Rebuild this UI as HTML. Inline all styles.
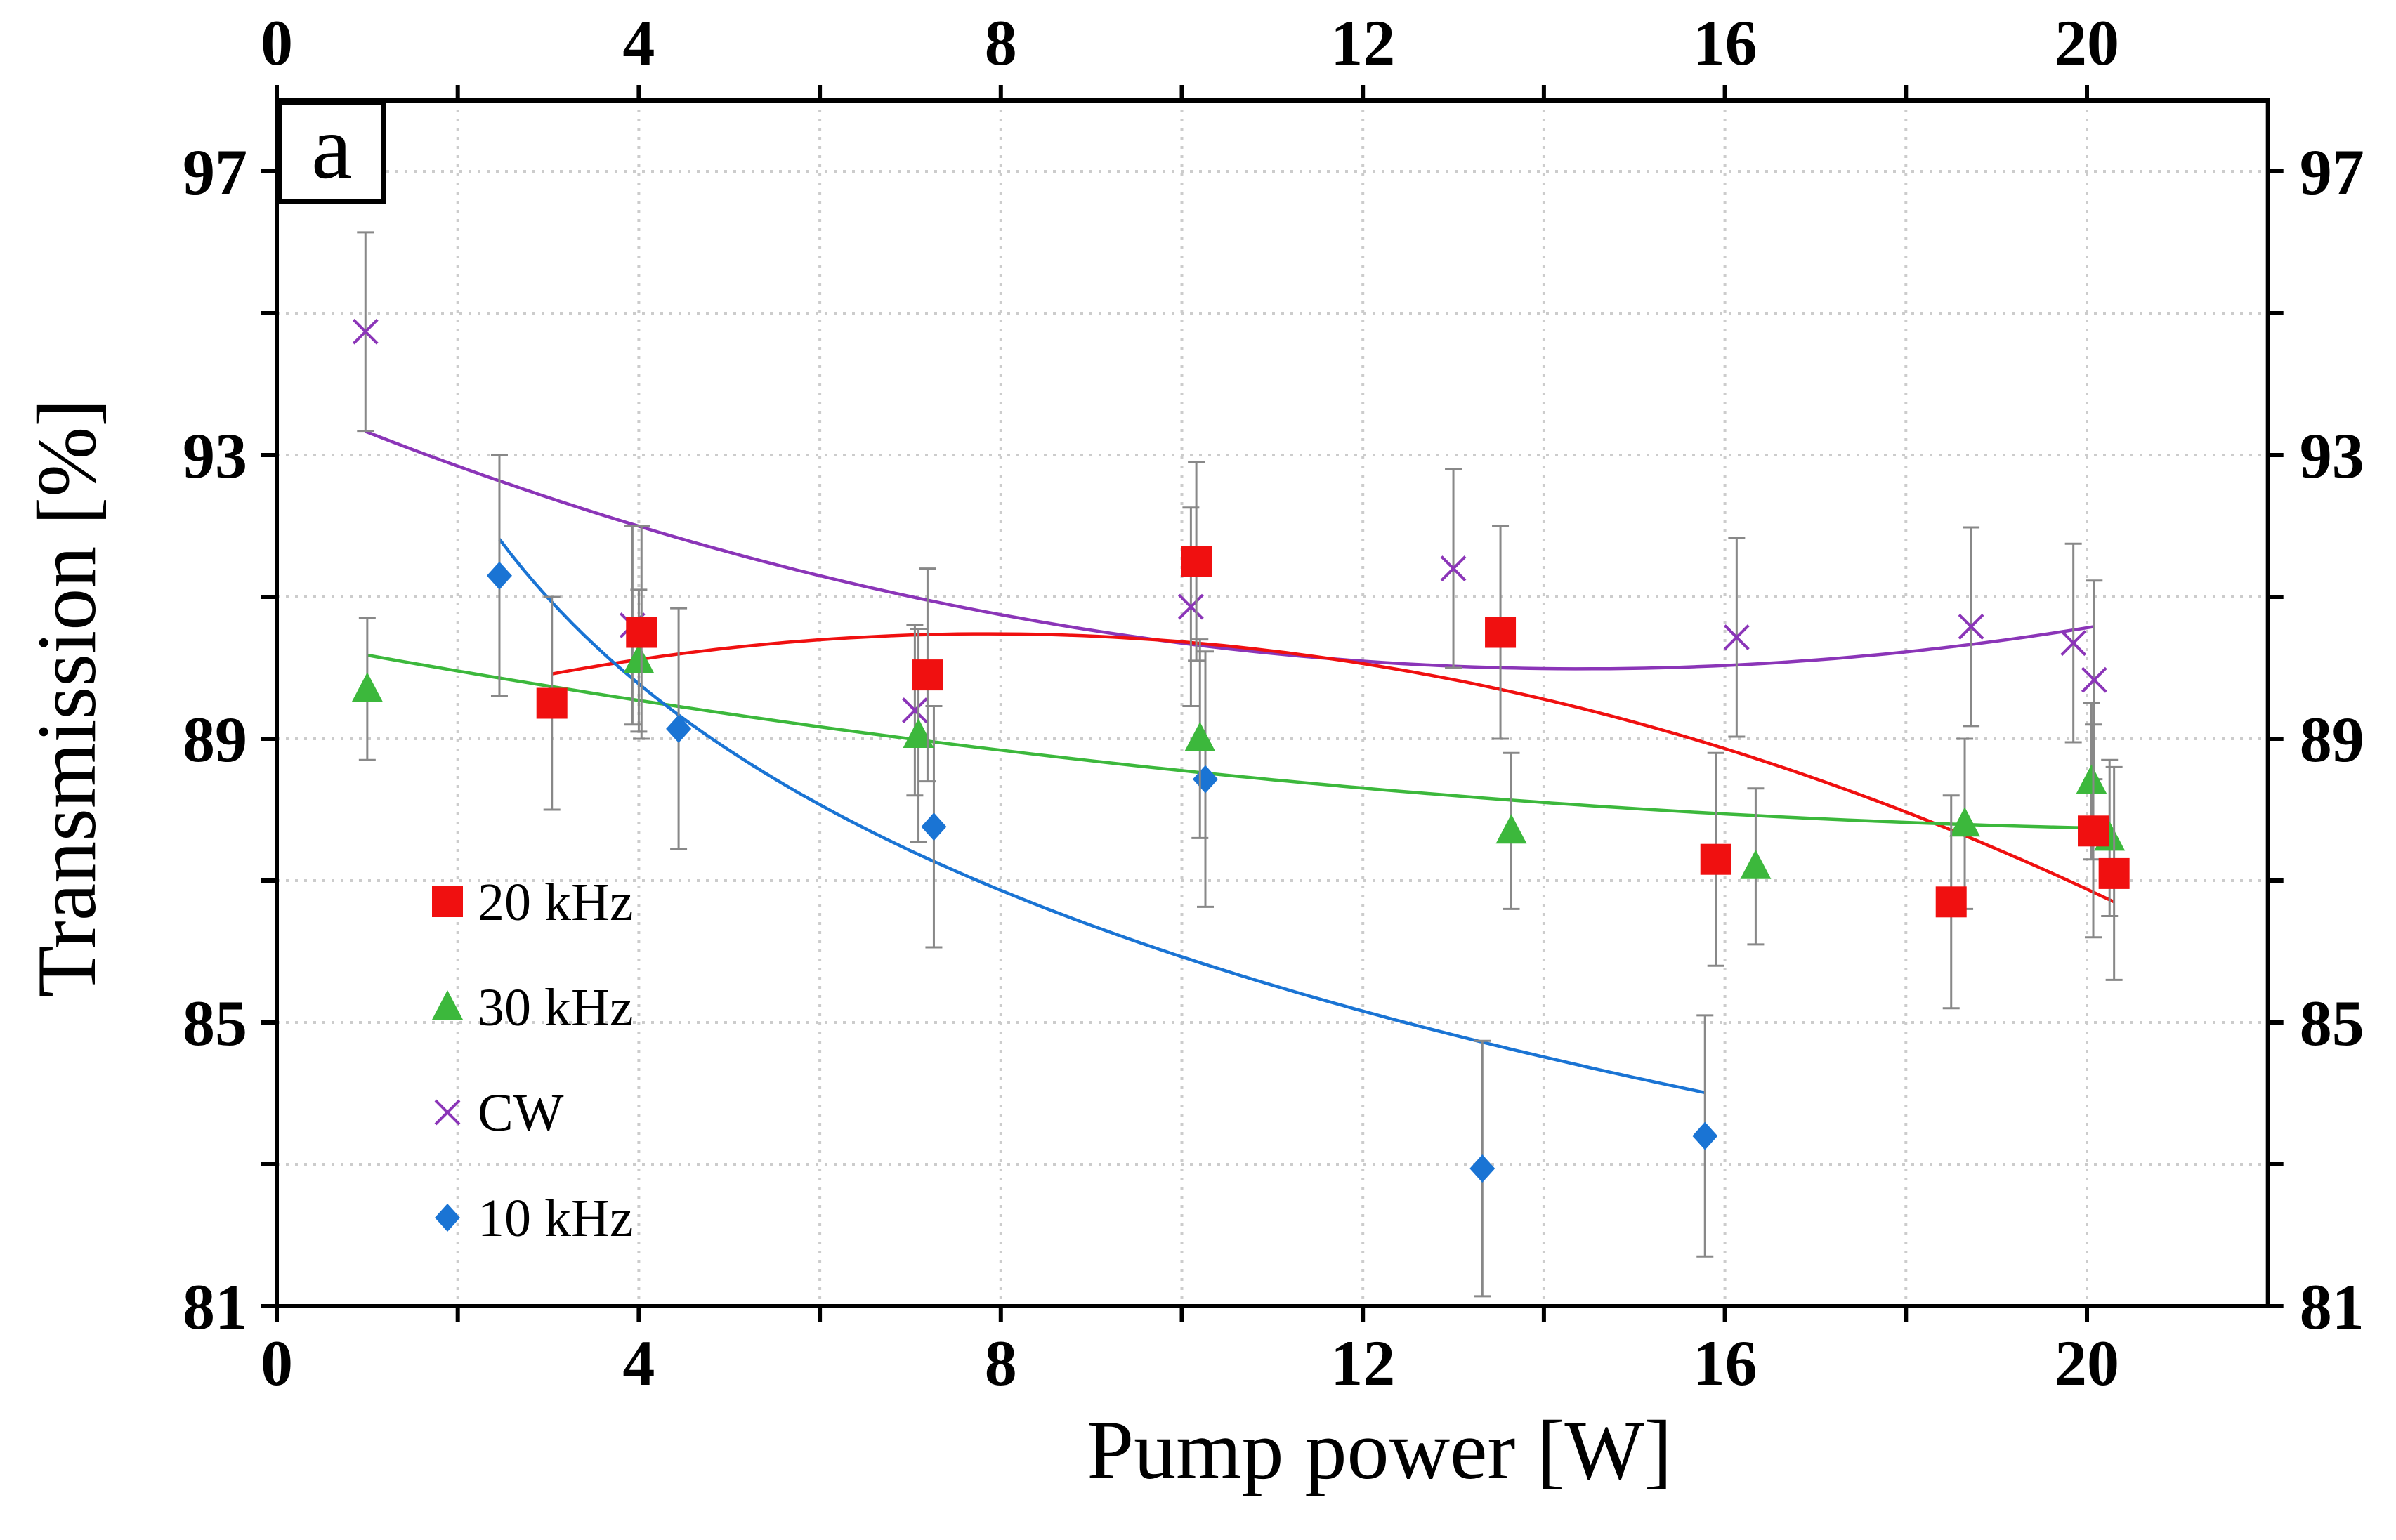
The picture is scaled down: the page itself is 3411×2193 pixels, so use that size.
<!DOCTYPE html>
<html><head><meta charset="utf-8"><style>
html,body{margin:0;padding:0;background:#fff;}
svg{display:block;font-family:"Liberation Serif",serif;}
</style></head><body>
<svg id="chart" width="3411" height="2193" viewBox="0 0 3411 2193" xmlns="http://www.w3.org/2000/svg">
<g id="grid"></g>
<g id="axes"></g>
<g id="fits"></g>
<g id="marks"></g>
<g id="legend"></g>
</svg>
<script>
const xTicks=[0,4,8,12,16,20];
const xMinor=[2,6,10,14,18];
const yTicks=[97,93,89,85,81];
const yMinor=[95,91,87,83];
const x20=[3.04,4.03,7.19,10.16,13.52,15.9,18.5,20.07,20.3];
const y20=[89.5,90.5,89.9,91.5,90.5,87.3,86.7,87.7,87.1];
const e20=[1.5,1.5,1.5,1.4,1.5,1.5,1.5,1.5,1.5];
const x30=[1.0,4.0,7.09,10.2,13.64,16.34,18.65,20.05,20.25];
const y30=[89.7,90.1,89.05,89.0,87.7,87.2,87.8,88.4,87.6];
const e30=[1.0,1.0,1.5,1.4,1.1,1.1,1.2,1.1,1.1];
const xCW=[0.98,3.93,7.05,10.1,13.0,16.13,18.72,19.85,20.08];
const yCW=[94.74,90.6,89.4,90.86,91.4,90.43,90.58,90.35,89.83];
const eCW=[1.4,1.4,1.2,1.4,1.4,1.4,1.4,1.4,1.4];
const x10=[2.46,4.44,7.26,10.26,13.32,15.78];
const y10=[91.3,89.14,87.76,88.43,82.94,83.4];
const e10=[1.7,1.7,1.7,1.8,1.8,1.7];
const legendLabels=["20 kHz","30 kHz","CW","10 kHz"];

const NS="http://www.w3.org/2000/svg";
const X0=394,PX=128.85,Y97=244,PY=101;
const sx=v=>X0+v*PX, sy=v=>Y97+(97-v)*PY;
const L=sx(0),R=sx(22),T=sy(98),B=sy(81);
function mk(tag,attrs,parent,text){const e=document.createElementNS(NS,tag);for(const k in attrs)e.setAttribute(k,attrs[k]);if(text!==undefined)e.textContent=text;parent.appendChild(e);return e;}
const grid=document.getElementById('grid'),axes=document.getElementById('axes'),fits=document.getElementById('fits'),marks=document.getElementById('marks'),legend=document.getElementById('legend');

[...xTicks,...xMinor].forEach(v=>{if(v>0){const l=mk('line',{x1:sx(v),x2:sx(v),y1:T,y2:B,stroke:'#ccc','stroke-width':4,'stroke-dasharray':'4 9'},grid);

}});
[...yTicks,...yMinor].forEach(v=>{if(v>81){const l=mk('line',{x1:L,x2:R,y1:sy(v),y2:sy(v),stroke:'#ccc','stroke-width':4,'stroke-dasharray':'4 9'},grid);

}});

const frame=mk('rect',{x:L,y:T,width:R-L,height:B-T,fill:'none',stroke:'#000','stroke-width':6},axes);


[...xTicks,...xMinor].forEach(v=>{
 mk('line',{x1:sx(v),x2:sx(v),y1:B,y2:B+22,stroke:'#000','stroke-width':6},axes);
 mk('line',{x1:sx(v),x2:sx(v),y1:T,y2:T-22,stroke:'#000','stroke-width':6},axes);});
[...yTicks,...yMinor].forEach(v=>{
 mk('line',{x1:L,x2:L-22,y1:sy(v),y2:sy(v),stroke:'#000','stroke-width':6},axes);
 mk('line',{x1:R,x2:R+22,y1:sy(v),y2:sy(v),stroke:'#000','stroke-width':6},axes);});
xTicks.forEach(v=>{
 const b=mk('text',{x:sx(v),y:B+112,'text-anchor':'middle','font-size':92,'font-weight':'bold'},axes,String(v));
 
 
 const t=mk('text',{x:sx(v),y:92,'text-anchor':'middle','font-size':92,'font-weight':'bold'},axes,String(v));
 
 });
yTicks.forEach(v=>{
 const a=mk('text',{x:L-42,y:sy(v)+32,'text-anchor':'end','font-size':92,'font-weight':'bold'},axes,String(v));
 
 
 const c=mk('text',{x:R+45,y:sy(v)+32,'text-anchor':'start','font-size':92,'font-weight':'bold'},axes,String(v));
 
 });
const xt=mk('text',{x:1964,y:2105,'text-anchor':'middle','font-size':120},axes,'Pump power [W]');


const yt=mk('text',{x:0,y:0,'text-anchor':'middle','font-size':120,transform:'translate(135,994) rotate(-90)'},axes,'Transmission [%]');


const pb=mk('rect',{x:L+4,y:T+4,width:148,height:140,fill:'#fff',stroke:'#000','stroke-width':6},axes);


const pl=mk('text',{x:L+78,y:T+110,'text-anchor':'middle','font-size':130},axes,'a');



function quadFit(xs,ys){let S=[0,0,0,0,0],Ty=[0,0,0];xs.forEach((x,i)=>{for(let k=0;k<5;k++)S[k]+=x**k;for(let k=0;k<3;k++)Ty[k]+=ys[i]*x**k;});
 const M=[[S[0],S[1],S[2],Ty[0]],[S[1],S[2],S[3],Ty[1]],[S[2],S[3],S[4],Ty[2]]];
 for(let i=0;i<3;i++){for(let j=i+1;j<3;j++){const f=M[j][i]/M[i][i];for(let k=i;k<4;k++)M[j][k]-=f*M[i][k];}}
 const c=[0,0,0];for(let i=2;i>=0;i--){let s=M[i][3];for(let k=i+1;k<3;k++)s-=M[i][k]*c[k];c[i]=s/M[i][i];}return c;}
function logFit(xs,ys){const n=xs.length;let sl=0,sy2=0,sll=0,sly=0;xs.forEach((x,i)=>{const l=Math.log(x);sl+=l;sy2+=ys[i];sll+=l*l;sly+=l*ys[i];});
 const b=(n*sly-sl*sy2)/(n*sll-sl*sl),a=(sy2-b*sl)/n;return x=>a+b*Math.log(x);}
function drawPath(xs,f,col,name){const a=Math.min(...xs),b=Math.max(...xs);let d='';
 for(let i=0;i<=100;i++){const x=a+(b-a)*i/100,y=f(x);d+=(i?'L':'M')+sx(x).toFixed(1)+','+sy(y).toFixed(1);}
 const p=mk('path',{d:d,fill:'none',stroke:col,'stroke-width':4.5},fits);
 
 }
function drawFit(xs,ys,col,name){const c=quadFit(xs,ys);drawPath(xs,x=>c[0]+c[1]*x+c[2]*x*x,col,name);}
drawFit(xCW,yCW,'#8b35b8','fit-cw');
drawFit(x20,y20,'#f01010','fit-20khz');
drawFit(x30,y30,'#3cb83c','fit-30khz');
drawPath(x10,logFit(x10,y10),'#1a74d4','fit-10khz');

function marker(shape,cx,cy,col,parent){
 if(shape==='sq')return mk('rect',{x:cx-22,y:cy-22,width:44,height:44,fill:col},parent);
 if(shape==='tri')return mk('polygon',{points:`${cx},${cy-24} ${cx+22},${cy+18} ${cx-22},${cy+18}`,fill:col},parent);
 if(shape==='dia')return mk('polygon',{points:`${cx},${cy-20} ${cx+18},${cy} ${cx},${cy+20} ${cx-18},${cy}`,fill:col},parent);
 return mk('path',{d:`M${cx-17},${cy-17}L${cx+17},${cy+17}M${cx+17},${cy-17}L${cx-17},${cy+17}`,stroke:col,'stroke-width':4,fill:'none'},parent);}
function drawSeries(xs,ys,es,shape,col,name){xs.forEach((x,i)=>{const cx=sx(x),cy=sy(ys[i]),t=sy(ys[i]+es[i]),b=sy(ys[i]-es[i]);
 const eb=mk('path',{d:`M${cx},${t}L${cx},${b}M${cx-12},${t}L${cx+12},${t}M${cx-12},${b}L${cx+12},${b}`,stroke:'#888','stroke-width':3,fill:'none'},marks);
 
 
 const m=marker(shape,cx,cy,col,marks);
 
 });}
drawSeries(x10,y10,e10,'dia','#1a74d4','10khz');
drawSeries(xCW,yCW,eCW,'x','#8b35b8','cw');
drawSeries(x30,y30,e30,'tri','#3cb83c','30khz');
drawSeries(x20,y20,e20,'sq','#f01010','20khz');

const legShapes=['sq','tri','x','dia'],legCols=['#f01010','#3cb83c','#8b35b8','#1a74d4'];
legendLabels.forEach((lab,i)=>{const y=1284+i*150;
 const m=marker(legShapes[i],637,y,legCols[i],legend);
 
 
 const t=mk('text',{x:680,y:y+26,'font-size':76},legend,lab);
 
 });
</script>
</body></html>
